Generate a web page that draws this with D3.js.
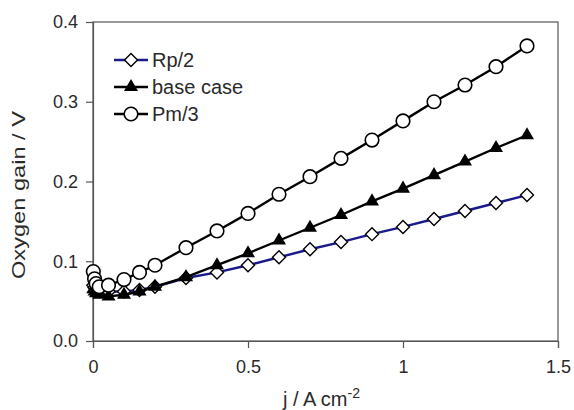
<!DOCTYPE html>
<html>
<head>
<meta charset="utf-8">
<script src="https://cdn.jsdelivr.net/npm/d3@7"></script>
<style>
  body { margin: 0; background: #fff; }
  text { font-family: "Liberation Sans", Arial, sans-serif; }
</style>
</head>
<body>
<div id="chart"></div>
<script>
// current density points (A cm-2)
const jValues = [0.001, 0.005, 0.01, 0.02, 0.05, 0.1, 0.15, 0.2, 0.3, 0.4, 0.5, 0.6, 0.7, 0.8, 0.9, 1.0, 1.1, 1.2, 1.3, 1.4];
const rpHalf = [0.070, 0.067, 0.065, 0.063, 0.062, 0.062, 0.064, 0.068, 0.079, 0.086, 0.095, 0.105, 0.115, 0.124, 0.134, 0.143, 0.153, 0.163, 0.173, 0.183];
const baseCase = [0.065, 0.062, 0.060, 0.058, 0.056, 0.058, 0.062, 0.068, 0.080, 0.095, 0.110, 0.126, 0.142, 0.158, 0.175, 0.191, 0.208, 0.225, 0.242, 0.258];
const pmThird = [0.087, 0.078, 0.072, 0.068, 0.070, 0.077, 0.086, 0.095, 0.117, 0.138, 0.160, 0.184, 0.206, 0.229, 0.252, 0.276, 0.300, 0.321, 0.344, 0.370];
const seriesNames = ["Rp/2", "base case", "Pm/3"];
const xTicks = [0, 0.5, 1, 1.5];
const yTicks = [0, 0.1, 0.2, 0.3, 0.4];

const width = 574, height = 410;
const margin = { top: 22, right: 16, bottom: 69, left: 93 };

const svg = d3.select("#chart").append("svg")
    .attr("width", width)
    .attr("height", height);

const x = d3.scaleLinear().domain([0, 1.5]).range([margin.left, width - margin.right]);
const y = d3.scaleLinear().domain([0, 0.4]).range([height - margin.bottom, margin.top]);

const axisColor = "#555";
const textColor = "#2a2a2a";

// frame (top and right)
svg.append("rect")
    .attr("x", x(0)).attr("y", y(0.4))
    .attr("width", x(1.5) - x(0)).attr("height", y(0) - y(0.4))
    .attr("fill", "none").attr("stroke", axisColor).attr("stroke-width", 1.2);

const xAxis = svg.append("g")
    .attr("transform", `translate(0,${y(0)})`)
    .call(d3.axisBottom(x).tickValues(xTicks).tickFormat(d3.format("~g")).tickSizeOuter(0).tickSize(7).tickPadding(12));
const yAxis = svg.append("g")
    .attr("transform", `translate(${x(0)},0)`)
    .call(d3.axisLeft(y).tickValues(yTicks).tickFormat(d3.format(".1f")).tickSizeOuter(0).tickSize(7).tickPadding(8));

[xAxis, yAxis].forEach(g => {
    g.selectAll("path, line").attr("stroke", axisColor).attr("stroke-width", 1.2);
    g.selectAll("text").attr("font-size", 18).attr("fill", textColor)
        .style("font-family", "'Liberation Sans', Arial, sans-serif");
});

// axis titles
svg.append("text")
    .attr("x", x(0.75) - 4).attr("y", 406)
    .attr("text-anchor", "middle").attr("font-size", 20).attr("fill", textColor)
    .html('j / A cm<tspan dy="-8" font-size="14">-2</tspan>');
svg.append("text")
    .attr("transform", "translate(25,195) rotate(-90)")
    .attr("text-anchor", "middle").attr("font-size", 19).attr("fill", textColor)
    .attr("textLength", 168).attr("lengthAdjust", "spacingAndGlyphs")
    .text("Oxygen gain / V");

// markers
function drawMarker(g, kind, cx, cy) {
    if (kind === "diamond") {
        g.append("path")
            .attr("d", `M${cx},${cy - 6.5}L${cx + 6.5},${cy}L${cx},${cy + 6.5}L${cx - 6.5},${cy}Z`)
            .attr("fill", "#fff").attr("stroke", "#000").attr("stroke-width", 1.4);
    } else if (kind === "triangle") {
        g.append("path")
            .attr("d", d3.symbol(d3.symbolTriangle, 85)())
            .attr("transform", `translate(${cx},${cy})`)
            .attr("fill", "#000");
    } else {
        g.append("circle")
            .attr("cx", cx).attr("cy", cy).attr("r", 6.8)
            .attr("fill", "#fff").attr("stroke", "#000").attr("stroke-width", 1.6);
    }
}

const series = [
    { name: seriesNames[0], values: rpHalf, line: "#1a1a8c", marker: "diamond" },
    { name: seriesNames[1], values: baseCase, line: "#000", marker: "triangle" },
    { name: seriesNames[2], values: pmThird, line: "#000", marker: "circle" }
];

const line = d3.line().x(d => x(d[0])).y(d => y(d[1]));

series.forEach(s => {
    const pts = jValues.map((j, i) => [j, s.values[i]]);
    svg.append("path")
        .datum(pts)
        .attr("d", line)
        .attr("fill", "none")
        .attr("stroke", s.line)
        .attr("stroke-width", 2.4);
    const g = svg.append("g");
    pts.forEach(p => drawMarker(g, s.marker, x(p[0]), y(p[1])));
});

// legend
const legend = svg.append("g");
series.forEach((s, i) => {
    const ly = 60 + i * 27;
    legend.append("line")
        .attr("x1", 114).attr("x2", 148).attr("y1", ly).attr("y2", ly)
        .attr("stroke", s.line).attr("stroke-width", 2.4);
    drawMarker(legend, s.marker, 131, ly);
    legend.append("text")
        .attr("x", 152).attr("y", ly + 7)
        .attr("font-size", 20).attr("fill", textColor)
        .text(s.name);
});
</script>
</body>
</html>
